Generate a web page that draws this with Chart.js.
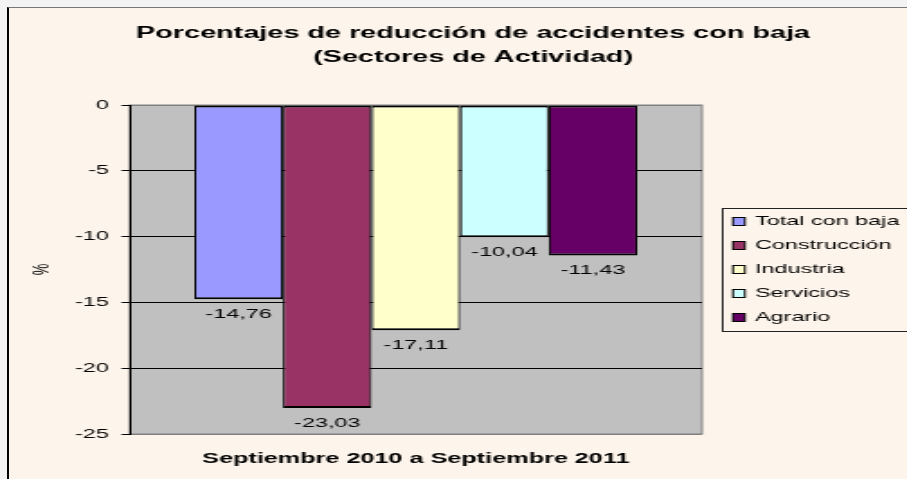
<!DOCTYPE html>
<html lang="es">
<head>
<meta charset="utf-8">
<title>Porcentajes de reducción de accidentes con baja</title>
<script src="https://cdn.jsdelivr.net/npm/chart.js@4.4.0/dist/chart.umd.min.js"></script>
<style>
  html, body { margin: 0; padding: 0; width: 907px; height: 479px; overflow: hidden; background: #f3f3f3; }
  #marco { position: absolute; left: 7px; top: 7px; width: 1000px; height: 600px; background: #fdf5eb; border-left: 2px solid #000; border-top: 1px solid #777; }
  /* the original picture is stretched sideways, so the canvas is too */
  #grafica { position: absolute; left: 0; top: 0; transform: scaleX(1.8); transform-origin: 0 0; }
</style>
</head>
<body>
<div id="marco"></div>
<canvas id="grafica" width="526" height="479"></canvas>
<script>
// datos
const categorias = ['Septiembre 2010 a Septiembre 2011'];
const series = ['Total con baja', 'Construcción', 'Industria', 'Servicios', 'Agrario'];
const totalConBaja = [-14.76];
const construccion = [-23.03];
const industria = [-17.11];
const servicios = [-10.04];
const agrario = [-11.43];
const ticksY = [0, -5, -10, -15, -20, -25];
const titulo = ['Porcentajes de reducción de accidentes con baja', '(Sectores de Actividad)'];

const colores = ['#9999ff', '#993366', '#ffffcc', '#ccffff', '#660066'];
const valores = [totalConBaja, construccion, industria, servicios, agrario];
const fuente = "'Liberation Sans', Arial, sans-serif";

function formato(v) {
  return v.toFixed(2).replace('.', ',');
}

// fondo gris del area de trazado
const fondoPlot = {
  id: 'fondoPlot',
  beforeDraw(chart) {
    const { ctx, chartArea: a } = chart;
    ctx.save();
    ctx.fillStyle = '#c0c0c0';
    ctx.fillRect(a.left, a.top, a.right - a.left, a.bottom - a.top);
    ctx.strokeStyle = '#808080';
    ctx.lineWidth = 1;
    ctx.strokeRect(a.left, a.top, a.right - a.left, a.bottom - a.top);
    ctx.restore();
  }
};

// etiquetas, titulo y leyenda como en el original
const extras = {
  id: 'extras',
  afterDatasetsDraw(chart) {
    const ctx = chart.ctx;
    ctx.save();
    ctx.font = '13px ' + fuente;
    ctx.fillStyle = '#000';
    ctx.textAlign = 'center';
    ctx.textBaseline = 'middle';
    chart.data.datasets.forEach((ds, i) => {
      chart.getDatasetMeta(i).data.forEach((bar, j) => {
        ctx.fillText(formato(ds.data[j]), bar.x, bar.y + 15);
      });
    });
    ctx.restore();
  },
  afterDraw(chart) {
    const ctx = chart.ctx;
    ctx.save();
    ctx.fillStyle = '#000';
    ctx.textAlign = 'center';
    ctx.textBaseline = 'middle';
    ctx.font = 'bold 16px ' + fuente;
    titulo.forEach((t, i) => ctx.fillText(t, 262.8, 33.5 + i * 24));

    // leyenda
    ctx.strokeStyle = '#222';
    ctx.lineWidth = 1;
    ctx.strokeRect(401.5, 208.5, 120, 123);
    ctx.font = '13px ' + fuente;
    ctx.textAlign = 'left';
    chart.data.datasets.forEach((ds, i) => {
      const y = 221.5 + i * 24;
      ctx.fillStyle = ds.backgroundColor;
      ctx.fillRect(407.2, y - 4, 6.6, 8);
      ctx.strokeStyle = '#000';
      ctx.strokeRect(407.2, y - 4, 6.6, 8);
      ctx.fillStyle = '#000';
      ctx.fillText(ds.label, 419.4, y);
    });
    ctx.restore();
  }
};

const ctx = document.getElementById('grafica').getContext('2d');
const chart = new Chart(ctx, {
  type: 'bar',
  data: {
    labels: categorias,
    datasets: series.map((nombre, i) => ({
      label: nombre,
      data: valores[i],
      backgroundColor: colores[i],
      borderColor: '#000',
      borderWidth: { top: 2, bottom: 2, left: 1.1, right: 1.1 },
      borderSkipped: false,
      categoryPercentage: 0.774,
      barPercentage: 1
    }))
  },
  options: {
    responsive: false,
    animation: false,
    devicePixelRatio: 1,
    layout: { padding: { top: 105, right: 136, bottom: 0, left: 0 } },
    plugins: {
      legend: { display: false },
      title: { display: false },
      tooltip: { enabled: false }
    },
    scales: {
      x: {
        grid: { display: false, drawTicks: false },
        border: { display: false },
        ticks: {
          color: '#000',
          padding: 17,
          maxRotation: 0,
          font: { family: fuente, size: 14, weight: 'bold' }
        },
        afterFit(scale) { scale.height = 45; }
      },
      y: {
        min: ticksY[ticksY.length - 1],
        max: ticksY[0],
        afterBuildTicks(scale) { scale.ticks = ticksY.map(v => ({ value: v })); },
        grid: {
          color: c => (c.tick && (c.tick.value === 0 || c.tick.value === -25)) ? '#808080' : '#000',
          tickColor: '#000',
          tickLength: 4.5,
          lineWidth: 1
        },
        border: { color: '#000', width: 1 },
        ticks: {
          color: '#000',
          padding: 7,
          font: { family: fuente, size: 13 }
        },
        title: {
          display: true,
          text: '%',
          color: '#000',
          padding: { top: 16, bottom: 0 },
          font: { family: fuente, size: 13 }
        },
        afterFit(scale) { scale.width = 72; }
      }
    }
  },
  plugins: [fondoPlot, extras]
});
</script>
</body>
</html>
